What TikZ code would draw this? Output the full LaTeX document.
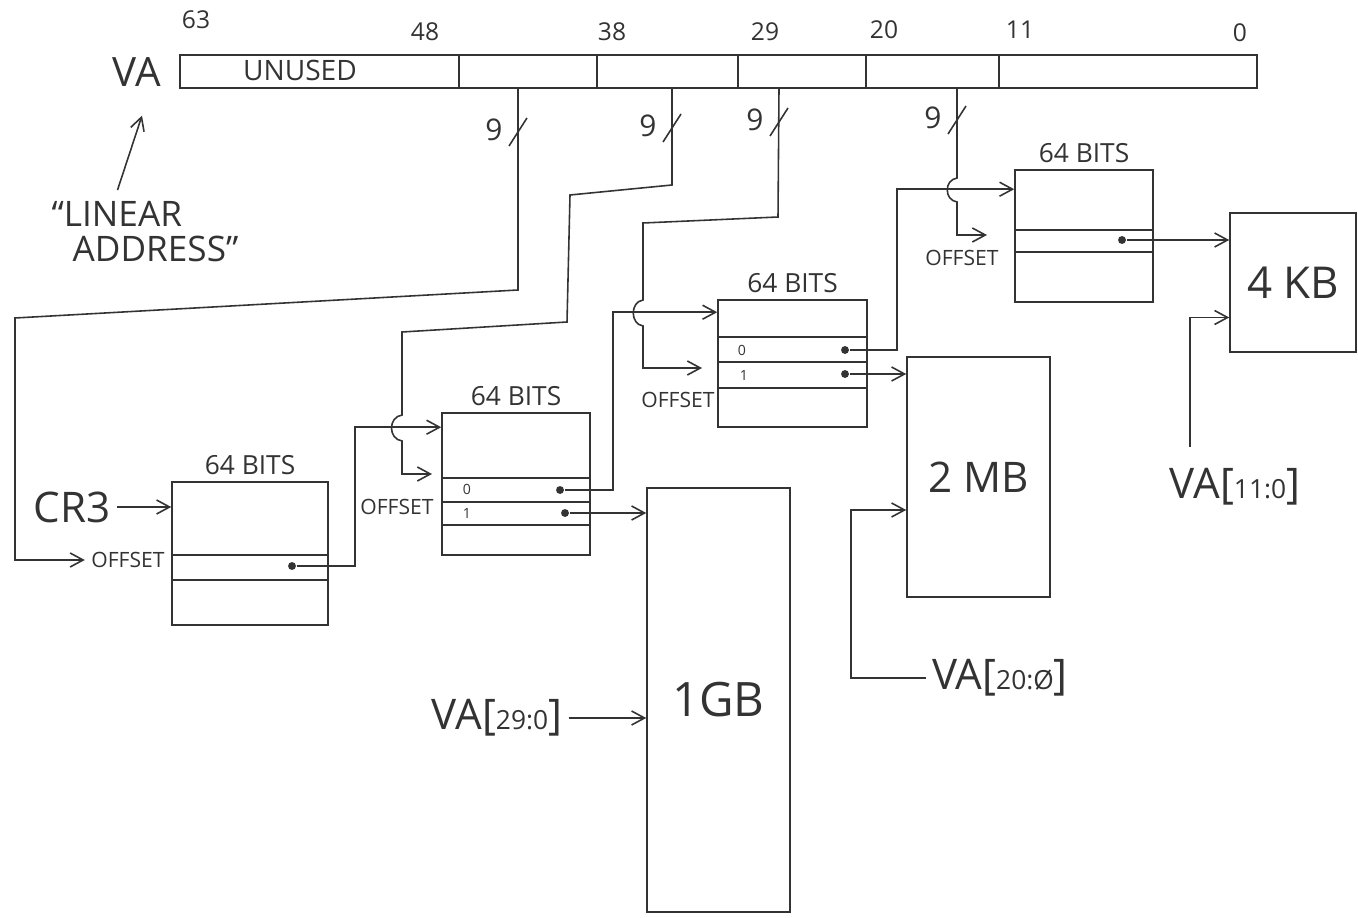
\documentclass[tikz,border=0pt]{standalone}
\usepackage{fontspec}
\setmainfont{Open Sans}
\usetikzlibrary{arrows.meta}

\newcommand{\fs}[1]{\fontsize{#1}{#1}\selectfont}

\begin{document}
\begin{tikzpicture}[
    x=0.02cm, y=-0.02cm,
    color=black!80, line width=0.9pt,
    tbl/.style={rectangle, draw, inner sep=0pt, label={[font=\fs{15}]above:64 BITS}},
    pg/.style={rectangle, draw, inner sep=0pt, font=\fs{25}},
    dot/.style={circle, fill, inner sep=0pt, minimum size=4.5pt},
    offs/.style={font=\fs{12}},
    bitno/.style={font=\fs{14}},
    arr/.style={-{Straight Barb[length=2.6mm,width=2.8mm]}}
]
    \useasboundingbox (0,0) rectangle (1358,918);

    % virtual address register
    \node [draw, inner sep=0pt, minimum width=21.54cm, minimum height=0.66cm] (va) at (718.5,71.5) {};
    \foreach \x in {459,597,738,866,999}
        \draw (\x,55) -- (\x,88);
    \node [font=\fs{23}] (vatag) at (137,72) {VA};
    \node [font=\fs{16}] (unused) at (300,70) {UNUSED};
    \foreach \b/\x/\y in {63/196/20, 48/425/32, 38/612/32, 29/765/32, 20/884/30, 11/1020/30, 0/1240/33}
        \node [bitno] (bit\b) at (\x,\y) {\b};
    \node [font=\fs{20}, align=left] (lin) at (145,232) {``LINEAR\\\hspace*{0.6em}ADDRESS''};
    \draw [arr] ([xshift=-0.55cm,yshift=0.1cm]lin.north) -- ([xshift=0.1cm,yshift=-0.45cm]vatag.south);

    % index fields
    \coordinate (w1) at (518,88);
    \coordinate (w2) at (672,88);
    \coordinate (w3) at (779,88);
    \coordinate (w4) at (957,88);
    \foreach \x/\y in {518/132, 672/128, 779/122, 957/120} {
        \draw (\x-9,\y+14) -- (\x+9,\y-14);
        \node [font=\fs{17}] (nine\x) at (\x-24,\y-2) {9};
    }

    % page tables
    \node [tbl, minimum width=3.12cm, minimum height=2.86cm] (t1) at (250,553.5) {};
    \node [tbl, minimum width=2.96cm, minimum height=2.84cm] (t2) at (516,484) {};
    \node [tbl, minimum width=2.98cm, minimum height=2.54cm] (t3) at (792.5,363.5) {};
    \node [tbl, minimum width=2.76cm, minimum height=2.64cm] (t4) at (1084,236) {};
    \foreach \t/\y in {t1/555, t1/580, t2/478, t2/502, t2/525, t3/337, t3/362, t3/388, t4/230, t4/252} {
        \coordinate (r) at (0,\y);
        \draw (\t.west |- r) -- (\t.east |- r);
    }
    \node [font=\fs{8}] (t2z) at (467,489) {0};
    \node [font=\fs{8}] (t2o) at (467,513) {1};
    \node [font=\fs{8}] (t3z) at (742,350) {0};
    \node [font=\fs{8}] (t3o) at (744,375) {1};
    \node [dot] (d1) at (292,566) {};
    \node [dot] (d2a) at (560,490) {};
    \node [dot] (d2b) at (565,513) {};
    \node [dot] (d3a) at (845,350) {};
    \node [dot] (d3b) at (845,374) {};
    \node [dot] (d4) at (1122,240) {};

    % pages
    \node [pg, minimum width=2.86cm, minimum height=8.48cm, font=\fs{27}] (p1g) at (718.5,700) {1GB};
    \node [pg, minimum width=2.86cm, minimum height=4.8cm, font=\fs{24}] (p2m) at (978.5,477) {\raisebox{-0.3cm}{2 MB}};
    \node [pg, minimum width=2.52cm, minimum height=2.78cm] (p4k) at (1293,282.5) {4 KB};

    % labels
    \node [font=\fs{24}] (cr3) at (72,507) {CR3};
    \node [offs] (off1) at (128,560) {OFFSET};
    \node [offs] (off2) at (397,507) {OFFSET};
    \node [offs] (off3) at (678,400) {OFFSET};
    \node [offs] (off4) at (962,258) {OFFSET};
    \coordinate (o2) at (432,474);
    \coordinate (o3) at (702,368);
    \coordinate (o4) at (987,235);
    \node [font=\fs{24}] (va29) at (497,718) {VA[{\fs{15}29:0}]};
    \node [font=\fs{24}] (va20) at (1000,678) {VA[{\fs{15}20:Ø}]};
    \node [font=\fs{24}] (va11) at (1235,487) {VA[{\fs{15}11:0}]};

    % walk
    \draw [arr] (cr3.east) -- (cr3.east -| t1.west);
    \draw [arr] (w1) -- (518,290) -- (15,318) |- (off1.west);
    \draw [arr] (d1) -- (355,566) |- ([yshift=-0.3cm]t2.north west);
    \draw [arr] (w2) -- (672,185) -- (570,195) -- (567,322) -- (402,332) -- (402,415)
        .. controls (388,417) and (388,439) .. (402,441) -- (402,474) -- (o2);
    \draw [arr] (d2a) -- (613,490) |- ([yshift=-0.26cm]t3.north west);
    \draw [arr] (d2b) -- (d2b -| p1g.west);
    \draw [arr] (w3) -- (778,217) -- (643,223) -- (643,300)
        .. controls (630,302) and (630,324) .. (643,326) -- (643,368) -- (o3);
    \draw [arr] (d3a) -- (897,350) |- ([yshift=-0.4cm]t4.north west);
    \draw [arr] (d3b) -- (d3b -| p2m.west);
    \draw [arr] (w4) -- (957,178)
        .. controls (944,180) and (944,200) .. (957,202) -- (957,235) -- (o4);
    \draw [arr] (d4) -- (d4 -| p4k.west);
    \draw [arr] (va29.east) -- (va29.east -| p1g.west);
    \draw [arr] (va20.west) -| ([xshift=-1.1cm,yshift=-0.66cm]p2m.west) -- ([yshift=-0.66cm]p2m.west);
    \draw [arr] ([xshift=-0.9cm,yshift=0.3cm]va11.north) |- ([yshift=-0.7cm]p4k.west);
\end{tikzpicture}
\end{document}
